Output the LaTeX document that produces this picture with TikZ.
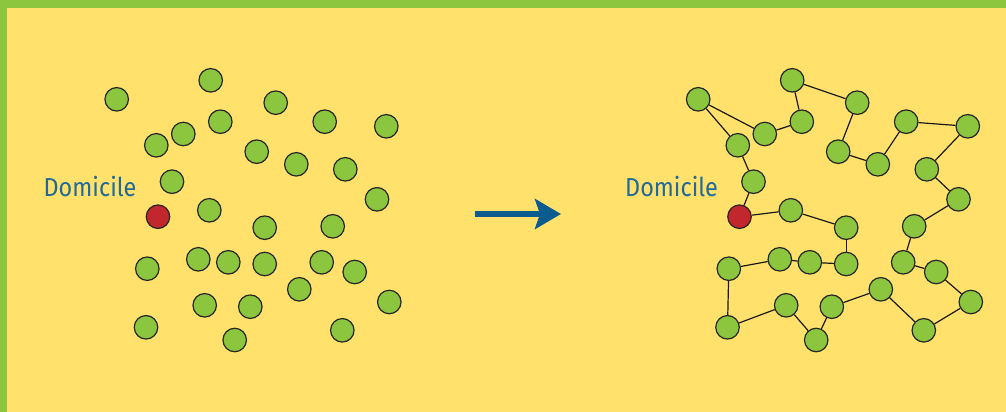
\documentclass[tikz,border=0pt]{standalone}
\usepackage{fontspec}
\newfontfamily\domfont{Fira Sans}
\usetikzlibrary{arrows.meta}
\definecolor{bgyellow}{HTML}{FFE16C}
\definecolor{framegreen}{HTML}{8CC63F}
\definecolor{dotgreen}{HTML}{8CC63F}
\definecolor{homered}{HTML}{C1272D}
\definecolor{textblue}{HTML}{1E6A9A}
\definecolor{arrowblue}{HTML}{0B5C8E}
\tikzset{
  dot/.style={circle, draw=black!85, line width=1.2pt, fill=dotgreen, minimum size=23.5pt, inner sep=0pt},
  home/.style={dot, fill=homered},
  link/.style={draw=black!90, line width=1.2pt},
  lbl/.style={font=\domfont\fontsize{26}{26}\selectfont, text=textblue, inner sep=0pt, anchor=base west, xscale=0.9, transform shape}
}
\begin{document}
\begin{tikzpicture}[x=1pt,y=-1pt]
\useasboundingbox (0,0) rectangle (1006,412);
\fill[framegreen] (0,0) rectangle (1006,412);
\fill[bgyellow] (7,8) rectangle (1006,412);
% left panel
\foreach \n/\x/\y in {1/116.7/99.3, 2/210.7/80.3, 3/275.7/102.7, 4/220.3/121.7, 5/183.3/134, 6/156.3/145.3,
  7/324.7/121.7, 8/386.3/126.3, 9/256.7/151.7, 10/296.3/164.3, 11/345.3/169.3, 12/172/181.7,
  13/377/199.3, 15/209.3/210.3, 16/264.7/227.7, 17/332.7/226.3, 18/147.3/268.7,
  19/198.3/259.3, 20/228.3/262.3, 21/264.7/264, 22/321.7/262.3, 23/354.7/272, 24/299.3/289.3,
  25/204.7/305.3, 26/250.3/306.7, 27/389.3/302, 28/146/327.3, 29/234.7/340, 30/342.3/330.3}
{
  \node[dot] (l\n) at (\x,\y) {};
  \node[dot] (r\n) at (\x+581.5,\y) {};
}
\node[home] (l14) at (158,216.7) {};
\node[home] (r14) at (739.5,216.7) {};
\node[lbl] (tl) at (43.5,196.7) {Domicile};
\node[lbl] (tr) at (625,196.7) {Domicile};
% tour on the right
\foreach \a/\b in {14/12, 12/6, 6/1, 1/5, 5/4, 4/2, 2/3, 3/9, 9/10, 10/7, 7/8, 8/11, 11/13, 13/17,
  17/22, 22/23, 23/27, 27/30, 30/24, 24/26, 26/29, 29/25, 25/28, 28/18, 18/19, 19/20, 20/21,
  21/16, 16/15, 15/14}
{
  \draw[link] (r\a) -- (r\b);
}
% arrow
\coordinate (a0) at (475,214);
\coordinate (a1) at (561,214);
\draw[arrowblue, line width=6pt, -{Stealth[length=26pt, width=30pt, inset=5pt]}] (a0) -- (a1);
\end{tikzpicture}
\end{document}
